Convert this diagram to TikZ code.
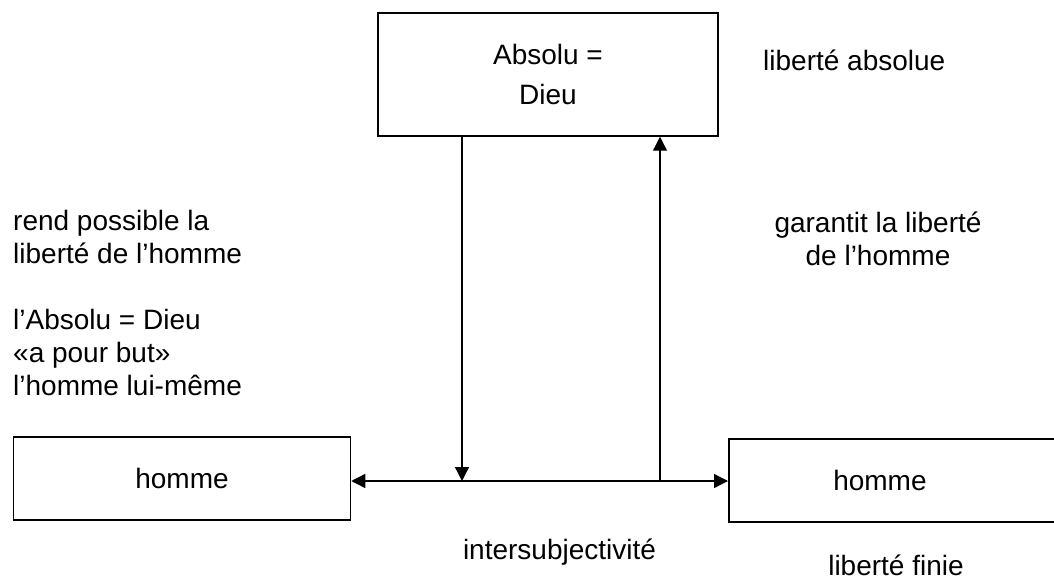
\documentclass[tikz,border=0pt]{standalone}
\usepackage{fontspec}
\setmainfont{Liberation Sans}
\usepackage{tikz}
\usetikzlibrary{positioning,arrows.meta}
\newcommand{\bigtext}{\fontsize{28}{33}\selectfont}
\tikzset{
  box/.style={draw, line width=1.5pt, inner sep=0pt, font=\bigtext},
  txt/.style={inner sep=0pt, font=\bigtext},
  fwd/.style={->, line width=1.3pt, >={Triangle[length=14pt,width=14pt]}},
  both/.style={<->, line width=1.3pt, >={Triangle[length=14pt,width=14pt]}},
}

\begin{document}
\begin{tikzpicture}[x=1pt, y=-1pt]
  \useasboundingbox (0,0) rectangle (1054,580);

  \node[box, minimum width=340pt, minimum height=123pt, align=center] (absolu) at (548,74.5) {Absolu =\\[7pt]Dieu};
  \node[box, minimum width=337pt, minimum height=83pt] (homme1) at (182,478.5) {homme};
  % right box runs off the page
  \node[box, anchor=west, minimum height=83pt, inner xsep=104.5pt, text width=240pt, align=left] (homme2) at (728,480.5) {homme};

  \node[txt, anchor=base west] (libabs) at (763,71) {liberté absolue};
  \node[txt, anchor=north west, align=left] (rend) at (13,210) {rend possible la\\liberté de l’homme\\[33pt]l’Absolu = Dieu\\«a pour but»\\l’homme lui-même};
  \node[txt, anchor=north, align=center] (garantit) at (878,212) {garantit la liberté\\de l’homme};
  \node[txt, anchor=base] (intersub) at (559.5,559) {intersubjectivité};
  \node[txt, anchor=base] (libfin) at (896,575) {liberté finie};

  \coordinate (down) at (462,481);
  \coordinate (up) at (660,481);

  \draw[both] (homme1.east |- down) -- (homme2.west |- down);
  \draw[fwd] (absolu.south -| down) -- (down);
  \draw[fwd] (up) -- (absolu.south -| up);

\end{tikzpicture}
\end{document}
